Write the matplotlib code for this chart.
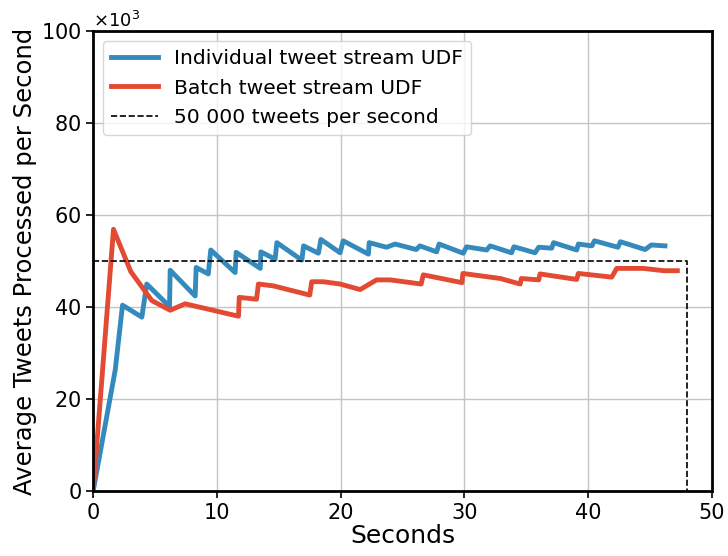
import numpy as np
import matplotlib
matplotlib.use("Agg")
import matplotlib.pyplot as plt

# individual tweet stream UDF (seconds, thousands of tweets/s)
indiv_t = [0, 1.78, 2.37, 3.93, 4.33, 6.17, 6.22, 8.24, 8.32, 9.3, 9.5, 11.47, 11.55,
           13.5, 13.55, 14.7, 14.84, 16.86, 17.0, 18.2, 18.4, 19.95, 20.2, 22.24, 22.3,
           23.7, 24.4, 26.1, 26.4, 27.75, 27.95, 29.9, 30.17, 31.8, 32.07, 33.8, 34.0,
           35.7, 36.0, 37.05, 37.2, 39.07, 39.2, 40.3, 40.5, 42.4, 42.6, 44.6, 45.1, 46.2]
indiv_k = [0, 26.3, 40.4, 37.8, 45.0, 40.1, 48.0, 42.4, 48.6, 47.2, 52.4, 47.5, 51.9,
           48.4, 52.0, 50.4, 54.0, 50.2, 53.3, 51.7, 54.7, 51.8, 54.4, 51.5, 54.0,
           53.0, 53.7, 52.5, 53.3, 52.0, 53.7, 51.7, 53.1, 52.4, 53.3, 51.8, 53.1,
           51.8, 53.0, 52.8, 54.0, 52.4, 53.7, 53.3, 54.4, 53.0, 54.2, 52.5, 53.5, 53.3]

# batch tweet stream UDF
batch_t = [0, 1.64, 3.04, 4.74, 6.22, 7.43, 11.74, 11.8, 13.2, 13.35, 14.56, 17.5, 17.66,
           18.6, 19.95, 21.57, 22.9, 24.0, 26.5, 26.67, 29.8, 29.87, 32.9, 34.5, 34.6,
           36.0, 36.1, 39.07, 39.2, 41.9, 42.3, 44.45, 46.1, 47.2]
batch_k = [0, 56.9, 47.7, 41.4, 39.3, 40.7, 38.0, 42.1, 41.7, 45.0, 44.6, 42.6, 45.5,
           45.5, 45.0, 43.8, 45.9, 45.9, 45.0, 47.0, 45.3, 47.3, 46.2, 45.0, 46.2,
           45.9, 47.2, 46.0, 47.3, 46.5, 48.4, 48.4, 47.9, 47.9]

# 50 000 tweets/s reference line
ref_t = [0, 48, 48]
ref_v = [50000, 50000, 0]

indiv_v = np.array(indiv_k) * 1000
batch_v = np.array(batch_k) * 1000

fig = plt.figure(figsize=(7.28, 5.56), dpi=100)
ax = fig.add_axes([0.128, 0.117, 0.850, 0.827])

ax.plot(indiv_t, indiv_v, color='#348ABD', lw=3.5, label='Individual tweet stream UDF')
ax.plot(batch_t, batch_v, color='#E24A33', lw=3.5, label='Batch tweet stream UDF')
ax.plot(ref_t, ref_v, 'k--', lw=1.2, label='50 000 tweets per second')

ax.set_xlim(0, 50)
ax.set_ylim(0, 100000)
ax.set_xticks([0, 10, 20, 30, 40, 50])
ax.set_yticks([0, 20000, 40000, 60000, 80000, 100000])
ax.ticklabel_format(axis='y', style='sci', scilimits=(3, 3), useMathText=True)
ax.yaxis.get_offset_text().set_fontsize(13)

ax.grid(True, color='#c4c4c4', lw=1.0)
ax.set_axisbelow(True)
for s in ax.spines.values():
    s.set_linewidth(2)
    s.set_color('black')
ax.tick_params(labelsize=15, width=1.2, length=5)

ax.set_xlabel('Seconds', fontsize=18, labelpad=1)
ax.set_ylabel('Average Tweets Processed per Second', fontsize=17.5, labelpad=3)

ax.legend(loc='upper left', fontsize=14.6, handlelength=2.3)

fig.savefig('out.png', dpi=100)
